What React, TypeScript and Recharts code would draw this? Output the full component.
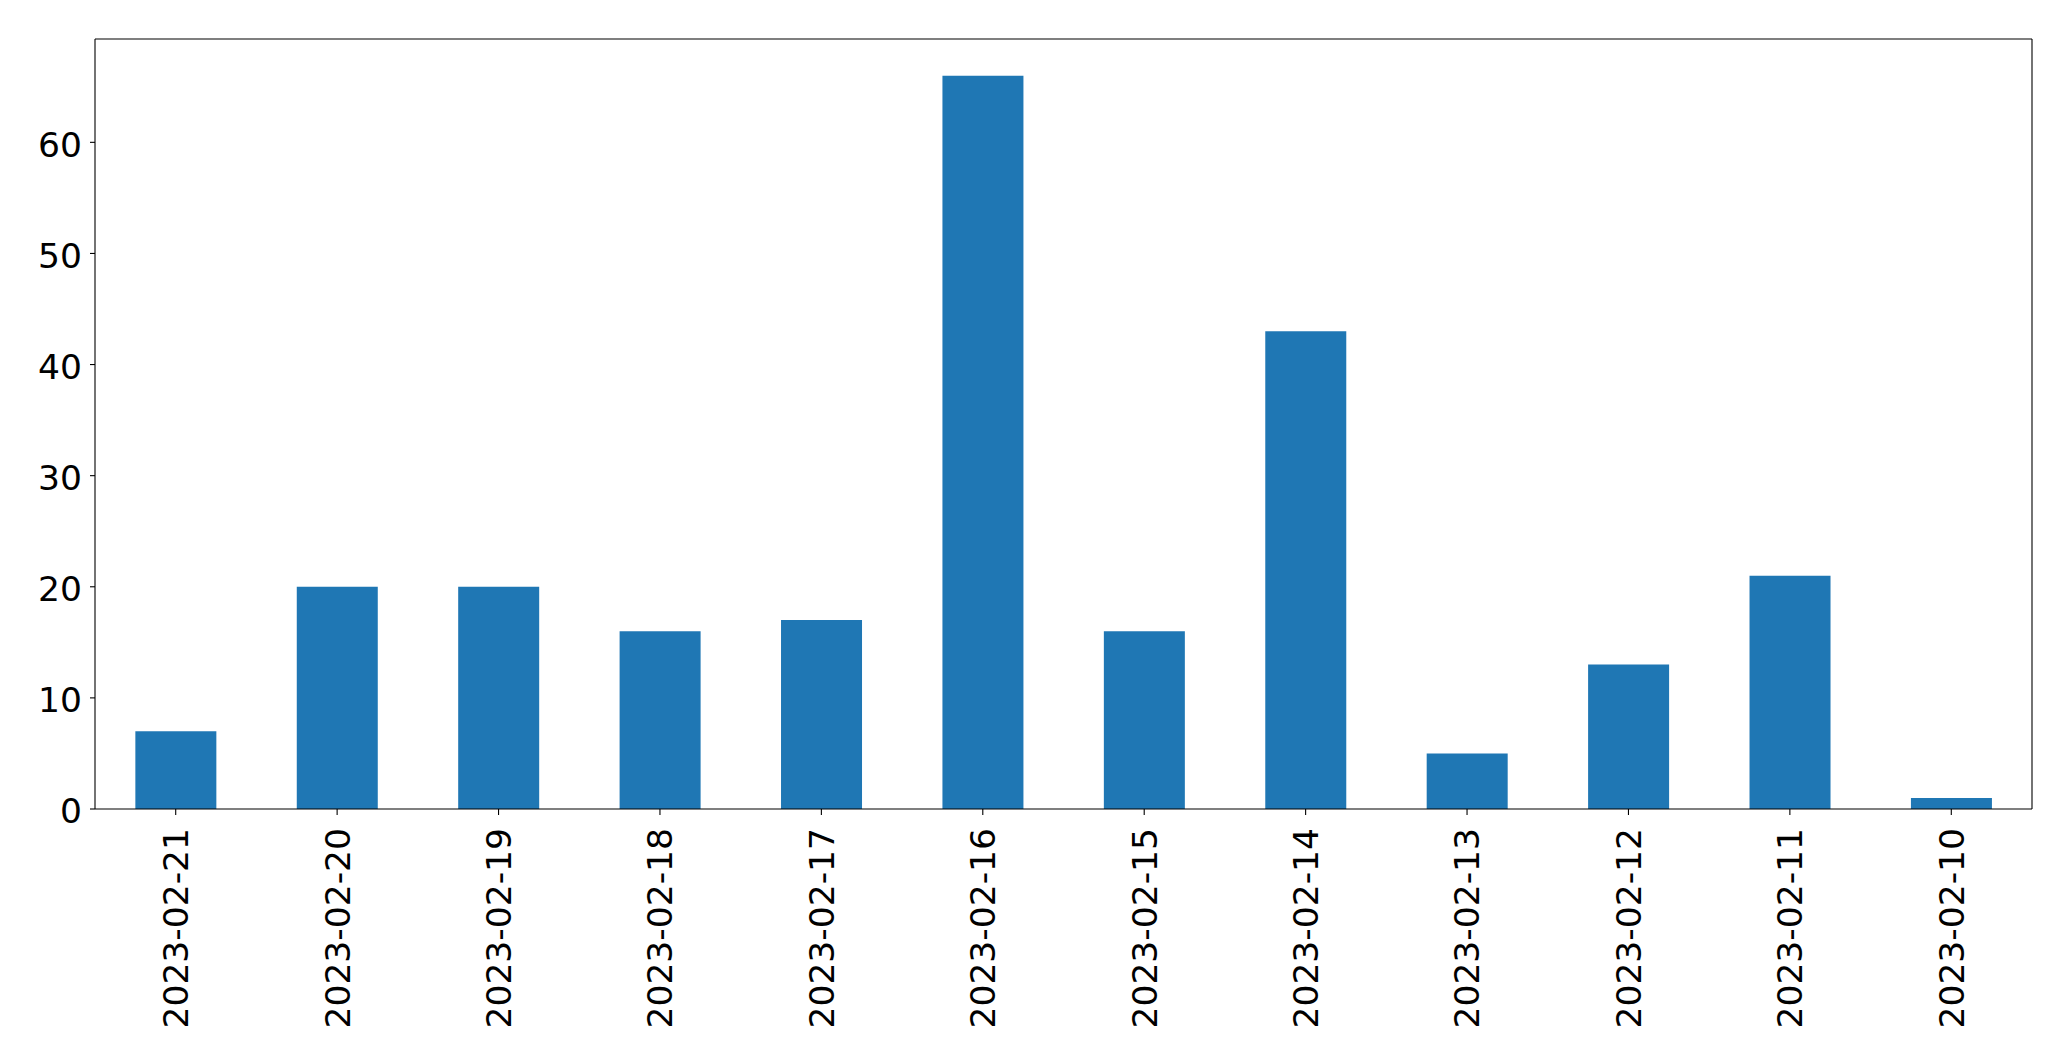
import { BarChart, Bar, XAxis, YAxis, CartesianGrid } from "recharts";

const dates = [
  "2023-02-21",
  "2023-02-20",
  "2023-02-19",
  "2023-02-18",
  "2023-02-17",
  "2023-02-16",
  "2023-02-15",
  "2023-02-14",
  "2023-02-13",
  "2023-02-12",
  "2023-02-11",
  "2023-02-10",
];
const counts = [7, 20, 20, 16, 17, 66, 16, 43, 5, 13, 21, 1];
const yTicks = [0, 10, 20, 30, 40, 50, 60];

const data = dates.map((d, i) => ({ date: d, count: counts[i] }));

const FONT = "'DejaVu Sans', sans-serif";

function XTick({ x, y, payload }: any) {
  return (
    <text
      x={x}
      y={y + 11}
      transform={`rotate(-90, ${x}, ${y + 11})`}
      textAnchor="end"
      dy="0.36em"
      fontSize={34.5}
      fontFamily={FONT}
      fill="#000"
    >
      {payload.value}
    </text>
  );
}

function YTick({ x, y, payload }: any) {
  return (
    <text
      x={x}
      y={y}
      textAnchor="end"
      dy="0.42em"
      fontSize={34.5}
      fontFamily={FONT}
      fill="#000"
    >
      {payload.value}
    </text>
  );
}

export default function App() {
  return (
    <div style={{ position: "absolute", left: 0, top: 0, background: "#fff" }}>
      <BarChart
        width={2071}
        height={1061}
        data={data}
        margin={{ top: 39, right: 39, bottom: 0, left: 0 }}
        barCategoryGap="25%"
      >
        {/* top + right frame lines */}
        <CartesianGrid
          stroke="#000"
          strokeWidth={1.1}
          horizontalCoordinatesGenerator={({ offset }: any) => [offset.top]}
          verticalCoordinatesGenerator={({ offset }: any) => [offset.left + offset.width]}
        />
        <XAxis
          dataKey="date"
          height={252}
          interval={0}
          tick={<XTick />}
          tickSize={6}
          tickLine={{ stroke: "#000", strokeWidth: 1.1 }}
          axisLine={{ stroke: "#000", strokeWidth: 1.1 }}
        />
        <YAxis
          width={95}
          domain={[0, 69.3]}
          ticks={yTicks}
          tick={<YTick />}
          tickSize={5}
          tickMargin={8}
          tickLine={{ stroke: "#000", strokeWidth: 1.1 }}
          axisLine={{ stroke: "#000", strokeWidth: 1.1 }}
        />
        <Bar dataKey="count" fill="#1f77b4" isAnimationActive={false} />
      </BarChart>
    </div>
  );
}
